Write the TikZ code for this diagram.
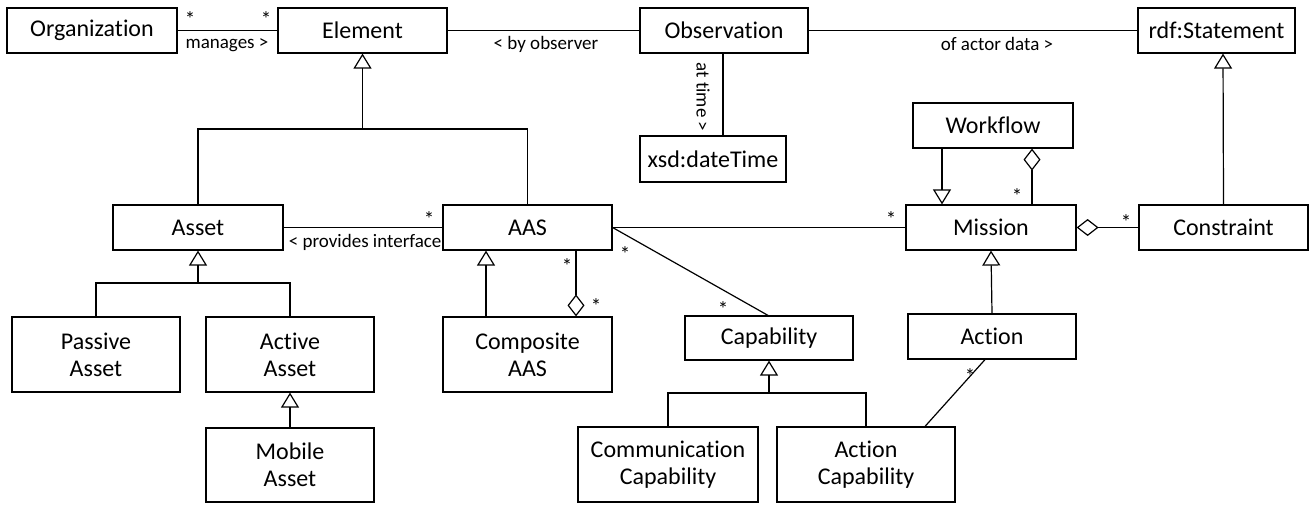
\documentclass[tikz,border=0pt]{standalone}
\usepackage{fontspec}
\setmainfont[Ligatures=NoCommon]{Carlito}
\usetikzlibrary{arrows.meta}
\begin{document}
\begin{tikzpicture}[x=1pt,y=-1pt,
  every path/.style={line width=1.2pt},
  cls/.style={draw, line width=1.2pt, inner sep=0pt, align=center, font=\fontsize{24}{27}\selectfont},
  lbl/.style={inner sep=0pt, font=\fontsize{19}{21}\selectfont},
  mult/.style={inner sep=0pt, font=\fontsize{21}{23}\selectfont},
  gen/.style={-{Triangle[open,length=15pt,width=18pt]}},
  agg/.style={-{Diamond[open,length=22pt,width=17pt]}}]
\useasboundingbox (0,0) rectangle (1313,504);
% classes
\node[cls, minimum width=170pt, minimum height=45pt] (org) at (92,30.5) {Organization};
\node[cls, minimum width=169pt, minimum height=45pt] (elem) at (362.5,30.5) {Element};
\node[cls, minimum width=168pt, minimum height=45pt] (obs) at (724,30.5) {Observation};
\node[cls, minimum width=157pt, minimum height=45pt] (rdf) at (1216.5,30.5) {rdf:Statement};
\node[cls, minimum width=146pt, minimum height=46pt] (xsd) at (713,159) {xsd:dateTime};
\node[cls, minimum width=160pt, minimum height=45pt] (wf) at (993,125.5) {Workflow};
\node[cls, minimum width=170pt, minimum height=45pt] (mis) at (991,227.5) {Mission};
\node[cls, minimum width=169pt, minimum height=45pt] (con) at (1223.5,227.5) {Constraint};
\node[cls, minimum width=170pt, minimum height=45pt] (asset) at (198,227.5) {Asset};
\node[cls, minimum width=169pt, minimum height=45pt] (aas) at (527.5,227.5) {AAS};
\node[cls, minimum width=168pt, minimum height=75pt] (pas) at (96,354.5) {Passive\\Asset};
\node[cls, minimum width=168pt, minimum height=75pt] (act) at (290,354.5) {Active\\Asset};
\node[cls, minimum width=168pt, minimum height=74pt] (mob) at (290,465) {Mobile\\Asset};
\node[cls, minimum width=169pt, minimum height=75pt] (comp) at (527.5,354.5) {Composite\\AAS};
\node[cls, minimum width=168pt, minimum height=44pt] (cap) at (769,338) {Capability};
\node[cls, minimum width=168pt, minimum height=45pt] (action) at (992,336.5) {Action};
\node[cls, minimum width=180pt, minimum height=75pt] (ccap) at (668,464.5) {Communication\\Capability};
\node[cls, minimum width=178pt, minimum height=75pt] (acap) at (866,464.5) {Action\\Capability};
% junction coordinates
\coordinate (jE) at (362.5,129);
\coordinate (jA) at (198,283);
\coordinate (jC) at (769,393);
% top row associations
\draw (org.east) -- (elem.west);
\node[mult] (m1) at (190,19) {*};
\node[mult] (m2) at (266,19) {*};
\node[lbl] (l1) at (227,45) {manages >};
\draw (obs.west) -- (elem.east);
\node[lbl] (l2) at (546,44) {< by observer};
\draw (obs.east) -- (rdf.west);
\node[lbl] (l3) at (997,44) {of actor data >};
\draw (723,0 |- obs.south) -- (723,0 |- xsd.north);
\node[lbl, rotate=-90] (l4) at (703,97) {at time >};
% Element generalization
\draw (asset.north) |- (jE) -| (aas.north);
\draw[gen] (jE) -- (elem.south);
% Asset - AAS
\draw (asset.east) -- (aas.west);
\node[mult] (m3) at (429,219) {*};
\node[lbl, anchor=east] (l5) at (442,242) {< provides interface};
% Asset generalization
\draw (pas.north) |- (jA) -| (act.north);
\draw[gen] (jA) -- (asset.south);
\draw[gen] (mob.north) -- (act.south);
% Composite AAS
\draw[gen] (486,0 |- comp.north) -- (486,0 |- aas.south);
\draw[agg] (576,0 |- aas.south) -- (576,0 |- comp.north);
\node[mult] (m4) at (567,266) {*};
\node[mult] (m5) at (596,306) {*};
% AAS - Mission
\draw (aas.east) -- (mis.west);
\node[mult] (m6) at (891,219) {*};
% AAS - Capability
\draw (aas.east) -- (768,0 |- cap.north);
\node[mult] (m7) at (625,254) {*};
\node[mult] (m8) at (723,309) {*};
% Capability generalization
\draw (ccap.north) |- (jC) -| (acap.north);
\draw[gen] (jC) -- (cap.south);
% Action
\draw[gen] (action.north) -- (mis.south);
\draw (985,0 |- action.south) -- (925,0 |- acap.north);
\node[mult] (m9) at (970,376) {*};
% Workflow
\draw[gen] (942,0 |- wf.south) -- (942,0 |- mis.north);
\draw[agg] (1032,0 |- mis.north) -- (1032,0 |- wf.south);
\node[mult] (m10) at (1017,196) {*};
% Constraint
\draw[agg] (con.west) -- (mis.east);
\node[mult] (m11) at (1126,222) {*};
\draw[gen] (con.north) -- (1223,0 |- rdf.south);
\end{tikzpicture}
\end{document}
